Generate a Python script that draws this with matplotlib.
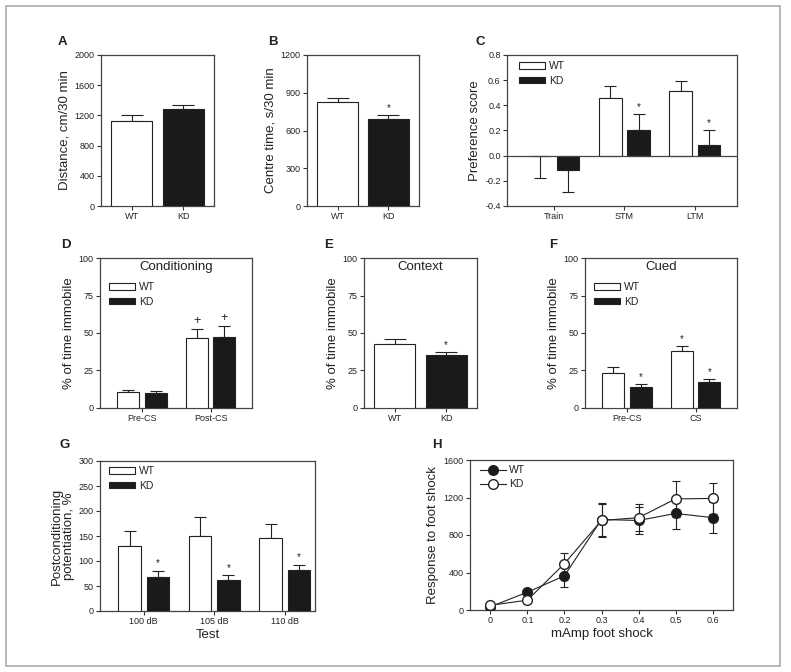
import numpy as np
import matplotlib
matplotlib.use('Agg')
import matplotlib.pyplot as plt
from matplotlib.patches import Rectangle
from matplotlib.lines import Line2D

plt.rcParams['font.family'] = ['Liberation Sans', 'DejaVu Sans']
plt.rcParams['text.color'] = '#222222'
plt.rcParams['axes.labelcolor'] = '#222222'
plt.rcParams['xtick.color'] = '#333333'
plt.rcParams['ytick.color'] = '#333333'
plt.rcParams['xtick.labelcolor'] = '#222222'
plt.rcParams['ytick.labelcolor'] = '#222222'

# ---- data ----
genotypes = ['WT', 'KD']

a_mean = [1120, 1280]
a_err = [80, 60]

b_mean = [830, 695]
b_err = [30, 25]
b_sig = ['', '*']

c_tests = ['Train', 'STM', 'LTM']
c_wt = [-0.005, 0.46, 0.51]
c_wt_err = [0.175, 0.095, 0.085]
c_kd = [-0.11, 0.205, 0.085]
c_kd_err = [0.175, 0.125, 0.12]
c_kd_sig = ['', '*', '*']

d_phases = ['Pre-CS', 'Post-CS']
d_wt = [10.5, 46.5]
d_wt_err = [1.5, 6]
d_kd = [10, 47.5]
d_kd_err = [1, 7]
d_wt_sig = ['', '+']
d_kd_sig = ['', '+']

e_mean = [42.5, 35]
e_err = [3.5, 2]
e_sig = ['', '*']

f_phases = ['Pre-CS', 'CS']
f_wt = [23.5, 38]
f_wt_err = [3.5, 3]
f_kd = [14, 17]
f_kd_err = [2, 2.5]
f_wt_sig = ['', '*']
f_kd_sig = ['*', '*']

g_tests = ['100 dB', '105 dB', '110 dB']
g_wt = [130, 151, 146]
g_wt_err = [30, 37, 28]
g_kd = [68, 63, 82]
g_kd_err = [13, 9, 11]
g_kd_sig = ['*', '*', '*']

h_shock = [0, 0.1, 0.2, 0.3, 0.4, 0.5, 0.6]
h_wt = [35, 190, 365, 965, 955, 1030, 985]
h_wt_err = [10, 20, 120, 180, 140, 170, 165]
h_kd = [50, 105, 495, 955, 985, 1185, 1190]
h_kd_err = [10, 15, 115, 175, 145, 190, 165]

# ---- figure ----
W, H = 791, 672
fig = plt.figure(figsize=(W / 100, H / 100), dpi=100)
fig.patches.append(Rectangle((6 / W, 1 - 666 / H), 774 / W, 660 / H,
                             transform=fig.transFigure, fill=False,
                             edgecolor='#aaaaaa', linewidth=1.2))

EDGE = '#222222'
TICK_FS = 6.5
LAB_FS = 9.5


def make_ax(l, r, t, b):
    ax = fig.add_axes([l / W, 1 - b / H, (r - l) / W, (b - t) / H])
    for s in ax.spines.values():
        s.set_color('#444444')
        s.set_linewidth(0.9)
    ax.tick_params(labelsize=TICK_FS, length=3, width=0.8, direction='out',
                   pad=1.5)
    return ax


def panel_letter(x, y, s):
    fig.text(x / W, 1 - y / H, s, fontsize=9.5, fontweight='bold',
             ha='center', va='center')


def bars(ax, x, vals, errs, color, width, capsize, sig=None, sig_fs=7, label=None):
    ax.bar(x, vals, width, color=color, edgecolor=EDGE, linewidth=0.8,
           label=label, zorder=3)
    vals = np.array(vals)
    errs = np.array(errs)
    lo = np.where(vals < 0, errs, 0)
    hi = np.where(vals < 0, 0, errs)
    ax.errorbar(x, vals, yerr=[lo, hi], fmt='none', ecolor=EDGE,
                elinewidth=0.8, capsize=capsize, capthick=0.8, zorder=2)
    if sig:
        for xi, v, e, s in zip(x, vals, errs, sig):
            if s:
                ax.annotate(s, (xi, v + e), xytext=(0, 1.5),
                            textcoords='offset points', ha='center',
                            va='bottom', fontsize=sig_fs)


def two_bar_panel(ax, vals, errs, sig=None):
    x = np.arange(2)
    for i, c in enumerate(['white', '#1a1a1a']):
        bars(ax, [x[i]], [vals[i]], [errs[i]], c, 0.8, 8,
             sig=[sig[i]] if sig else None)
    ax.set_xlim(-0.6, 1.6)
    ax.set_xticks(x)
    ax.set_xticklabels(genotypes)


def grouped_panel(ax, cats, wt, wt_err, kd, kd_err, wt_sig=None, kd_sig=None,
                  sig_fs=7):
    x = np.arange(len(cats))
    bars(ax, x - 0.2, wt, wt_err, 'white', 0.32, 4, wt_sig, sig_fs, 'WT')
    bars(ax, x + 0.2, kd, kd_err, '#1a1a1a', 0.32, 4, kd_sig, sig_fs, 'KD')
    ax.set_xticks(x)
    ax.set_xticklabels(cats)


def bar_legend(ax, x, y):
    ax.legend(loc='upper left', bbox_to_anchor=(x, y), frameon=False,
              fontsize=7.5, handlelength=2.5, handleheight=0.6,
              borderpad=0, borderaxespad=0, handletextpad=0.4,
              labelspacing=0.45)


# A
ax = make_ax(101, 214, 55, 206)
two_bar_panel(ax, a_mean, a_err)
ax.set_ylim(0, 2000)
ax.set_yticks(range(0, 2001, 400))
ax.set_ylabel('Distance, cm/30 min', fontsize=LAB_FS, labelpad=3)
panel_letter(62, 42, 'A')

# B
ax = make_ax(307, 419, 55, 206)
two_bar_panel(ax, b_mean, b_err, b_sig)
ax.set_ylim(0, 1200)
ax.set_yticks(range(0, 1201, 300))
ax.set_ylabel('Centre time, s/30 min', fontsize=LAB_FS, labelpad=3)
panel_letter(273, 42, 'B')

# C
ax = make_ax(507, 737, 55, 206)
grouped_panel(ax, c_tests, c_wt, c_wt_err, c_kd, c_kd_err, kd_sig=c_kd_sig)
ax.axhline(0, color='#444444', linewidth=0.9, zorder=4)
ax.set_xlim(-0.67, 2.6)
ax.set_ylim(-0.4, 0.8)
ax.set_yticks(np.arange(-0.4, 0.81, 0.2))
ax.yaxis.set_major_formatter(matplotlib.ticker.FormatStrFormatter('%.1f'))
ax.set_ylabel('Preference score', fontsize=LAB_FS, labelpad=3)
bar_legend(ax, 0.053, 0.96)
panel_letter(480, 42, 'C')

# D
ax = make_ax(100, 252, 258, 408)
grouped_panel(ax, d_phases, d_wt, d_wt_err, d_kd, d_kd_err, d_wt_sig, d_kd_sig,
              sig_fs=9)
ax.set_xlim(-0.61, 1.6)
ax.set_ylim(0, 100)
ax.set_yticks(range(0, 101, 25))
ax.set_ylabel('% of time immobile', fontsize=LAB_FS, labelpad=3)
ax.text(0.5, 0.94, 'Conditioning', transform=ax.transAxes, ha='center',
        va='center', fontsize=9.5)
bar_legend(ax, 0.06, 0.84)
panel_letter(66, 245, 'D')

# E
ax = make_ax(364, 477, 258, 408)
two_bar_panel(ax, e_mean, e_err, e_sig)
ax.set_ylim(0, 100)
ax.set_yticks(range(0, 101, 25))
ax.set_ylabel('% of time immobile', fontsize=LAB_FS, labelpad=3)
ax.text(0.5, 0.94, 'Context', transform=ax.transAxes, ha='center',
        va='center', fontsize=9.5)
panel_letter(329, 245, 'E')

# F
ax = make_ax(585, 737, 258, 408)
grouped_panel(ax, f_phases, f_wt, f_wt_err, f_kd, f_kd_err, f_wt_sig, f_kd_sig)
ax.set_xlim(-0.61, 1.6)
ax.set_ylim(0, 100)
ax.set_yticks(range(0, 101, 25))
ax.set_ylabel('% of time immobile', fontsize=LAB_FS, labelpad=3)
ax.text(0.5, 0.94, 'Cued', transform=ax.transAxes, ha='center',
        va='center', fontsize=9.5)
bar_legend(ax, 0.06, 0.84)
panel_letter(553, 245, 'F')

# G
ax = make_ax(100, 315, 461, 611)
grouped_panel(ax, g_tests, g_wt, g_wt_err, g_kd, g_kd_err, kd_sig=g_kd_sig)
ax.set_xlim(-0.62, 2.43)
ax.set_ylim(0, 300)
ax.set_yticks(range(0, 301, 50))
ax.set_ylabel('Postconditioning\npotentiation, %', fontsize=LAB_FS,
              linespacing=1.0, labelpad=3)
ax.set_xlabel('Test', fontsize=LAB_FS, labelpad=2)
bar_legend(ax, 0.042, 0.967)
panel_letter(65, 445, 'G')

# H
ax = make_ax(470, 733, 460, 610)
ax.errorbar(h_shock, h_wt, yerr=h_wt_err, color=EDGE, linewidth=0.8,
            marker='o', markersize=7, markerfacecolor='#1a1a1a',
            markeredgecolor=EDGE, capsize=3, elinewidth=0.8, capthick=0.8,
            zorder=3)
ax.errorbar(h_shock, h_kd, yerr=h_kd_err, color=EDGE, linewidth=0.8,
            marker='o', markersize=7, markerfacecolor='white',
            markeredgecolor=EDGE, capsize=3, elinewidth=0.8, capthick=0.8,
            zorder=4)
ax.set_xlim(-0.055, 0.655)
ax.set_xticks(h_shock)
ax.set_xticklabels(['0', '0.1', '0.2', '0.3', '0.4', '0.5', '0.6'])
ax.set_ylim(0, 1600)
ax.set_yticks(range(0, 1601, 400))
ax.set_ylabel('Response to foot shock', fontsize=LAB_FS, labelpad=3)
ax.set_xlabel('mAmp foot shock', fontsize=LAB_FS, labelpad=2)
handles = [Line2D([], [], color=EDGE, linewidth=0.8, marker='o', markersize=7,
                  markerfacecolor='#1a1a1a', markeredgecolor=EDGE),
           Line2D([], [], color=EDGE, linewidth=0.8, marker='o', markersize=7,
                  markerfacecolor='white', markeredgecolor=EDGE)]
ax.legend(handles, genotypes, loc='upper left', bbox_to_anchor=(0.038, 0.965),
          frameon=False, fontsize=7.5, handlelength=2.5, borderpad=0,
          borderaxespad=0, handletextpad=0.3, labelspacing=0.4)
panel_letter(437, 445, 'H')

fig.savefig('out.png', dpi=100, facecolor='white')
